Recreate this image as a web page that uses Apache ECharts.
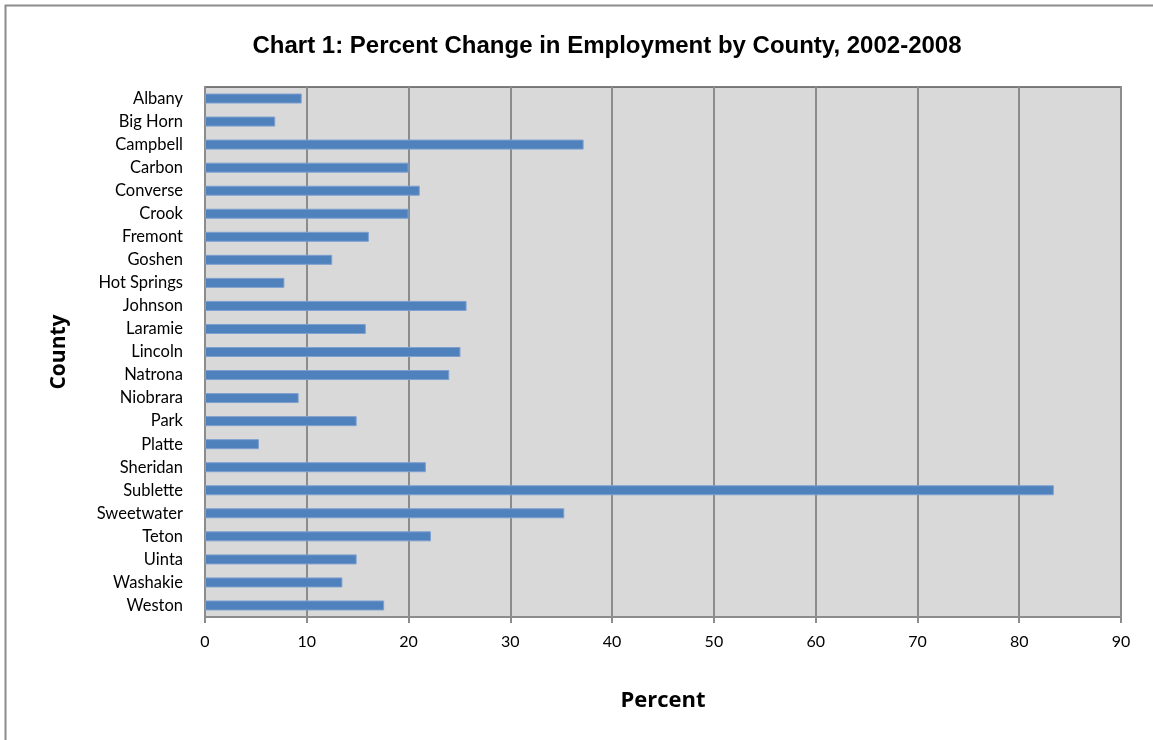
<!DOCTYPE html>
<html><head><meta charset="utf-8">
<script src="https://cdn.jsdelivr.net/npm/echarts@6/dist/echarts.min.js"></script>
<style>html,body{margin:0;padding:0;background:#fff}#c{width:1153px;height:740px}</style>
</head><body><div id="c"></div>
<script>
const counties = ["Albany","Big Horn","Campbell","Carbon","Converse","Crook","Fremont","Goshen","Hot Springs","Johnson","Laramie","Lincoln","Natrona","Niobrara","Park","Platte","Sheridan","Sublette","Sweetwater","Teton","Uinta","Washakie","Weston"];
const values = [9.5,6.9,37.2,20.0,21.1,20.0,16.1,12.5,7.8,25.7,15.8,25.1,24.0,9.2,14.9,5.3,21.7,83.4,35.3,22.2,14.9,13.5,17.6];
const xTicks = [0,10,20,30,40,50,60,70,80,90];

const chart = echarts.init(document.getElementById('c'));
chart.setOption({
  animation:false,
  backgroundColor:'#fff',
  title:{text:'Chart 1: Percent Change in Employment by County, 2002-2008',left:602,textAlign:'center',top:29,
    textStyle:{fontFamily:'Liberation Sans',fontWeight:'bold',fontSize:24,color:'#000'}},
  graphic:[{type:'rect',shape:{x:5.5,y:5.5,width:1160,height:760},style:{fill:'none',stroke:'#8c8c8c',lineWidth:2},z:-1}],
  grid:{left:205,right:32,top:87,bottom:123,backgroundColor:'#d9d9d9',show:true,borderColor:'#555',borderWidth:1.5},
  xAxis:{type:'value',min:0,max:90,interval:10,
    name:'Percent',nameLocation:'middle',nameGap:73,
    nameTextStyle:{fontFamily:'Open Sans',fontWeight:'bold',fontSize:22,color:'#000'},
    axisLine:{show:true,lineStyle:{color:'#8c8c8c',width:2}},
    axisTick:{show:true,length:6,lineStyle:{color:'#8c8c8c',width:2}},
    axisLabel:{margin:17,fontFamily:'Lato',fontSize:16,color:'#000',formatter:v=>xTicks.includes(v)?String(v):''},
    splitLine:{show:true,lineStyle:{color:'#8c8c8c',width:2}}},
  yAxis:{type:'category',data:counties,inverse:true,
    name:'County',nameLocation:'middle',nameGap:135,nameRotate:90,
    nameTextStyle:{fontFamily:'Open Sans',fontWeight:'bold',fontSize:21,color:'#000'},
    axisLine:{show:true,lineStyle:{color:'#8c8c8c',width:2}},
    axisTick:{show:false},
    axisLabel:{margin:22,fontFamily:'Lato',fontSize:16.5,color:'#000'}},
  series:[{type:'bar',data:values,barWidth:10,
    itemStyle:{color:'#4f81bd',borderColor:'#7d9fd0',borderWidth:1}}]
});
</script></body></html>
